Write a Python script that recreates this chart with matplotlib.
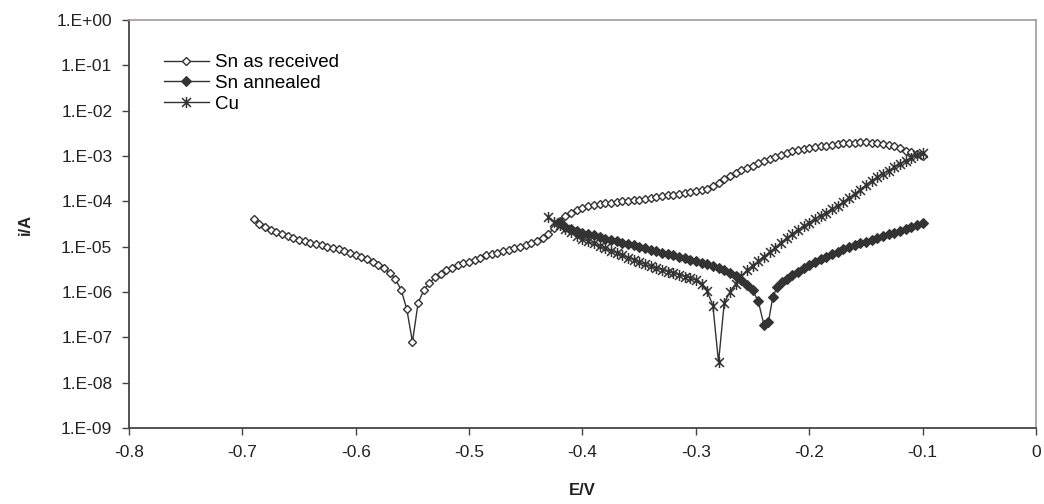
import numpy as np
import matplotlib
matplotlib.use("Agg")
import matplotlib.pyplot as plt
from matplotlib.path import Path
from matplotlib.ticker import FixedLocator, FuncFormatter

plt.rcParams['font.family'] = ['Liberation Sans', 'DejaVu Sans']

# Polarisation curves, E in V, current as log10(i/A)
e_received = [-0.690, -0.685, -0.680, -0.675, -0.670, -0.665, -0.660, -0.655, -0.650, -0.645,
              -0.640, -0.635, -0.630, -0.625, -0.620, -0.615, -0.610, -0.605, -0.600, -0.595,
              -0.590, -0.585, -0.580, -0.575, -0.570, -0.565, -0.560, -0.555, -0.550, -0.545,
              -0.540, -0.535, -0.530, -0.525, -0.520, -0.515, -0.510, -0.505, -0.500, -0.495,
              -0.490, -0.485, -0.480, -0.475, -0.470, -0.465, -0.460, -0.455, -0.450, -0.445,
              -0.440, -0.435, -0.430, -0.425, -0.420, -0.415, -0.410, -0.405, -0.400, -0.395,
              -0.390, -0.385, -0.380, -0.375, -0.370, -0.365, -0.360, -0.355, -0.350, -0.345,
              -0.340, -0.335, -0.330, -0.325, -0.320, -0.315, -0.310, -0.305, -0.300, -0.295,
              -0.290, -0.285, -0.280, -0.275, -0.270, -0.265, -0.260, -0.255, -0.250, -0.245,
              -0.240, -0.235, -0.230, -0.225, -0.220, -0.215, -0.210, -0.205, -0.200, -0.195,
              -0.190, -0.185, -0.180, -0.175, -0.170, -0.165, -0.160, -0.155, -0.150, -0.145,
              -0.140, -0.135, -0.130, -0.125, -0.120, -0.115, -0.110, -0.105, -0.100]
logi_received = [-4.40, -4.49, -4.56, -4.63, -4.68, -4.73, -4.77, -4.81, -4.85, -4.88,
                 -4.91, -4.94, -4.97, -5.00, -5.03, -5.06, -5.10, -5.14, -5.18, -5.22,
                 -5.27, -5.33, -5.40, -5.48, -5.58, -5.72, -5.95, -6.38, -7.10, -6.24,
                 -5.96, -5.80, -5.68, -5.60, -5.52, -5.46, -5.41, -5.37, -5.33, -5.29,
                 -5.24, -5.19, -5.16, -5.13, -5.10, -5.07, -5.04, -5.01, -4.97, -4.93,
                 -4.88, -4.81, -4.72, -4.58, -4.44, -4.33, -4.25, -4.19, -4.14, -4.10,
                 -4.07, -4.05, -4.04, -4.03, -4.02, -4.00, -3.99, -3.97, -3.96, -3.94,
                 -3.93, -3.91, -3.89, -3.87, -3.85, -3.83, -3.81, -3.79, -3.77, -3.75,
                 -3.72, -3.67, -3.59, -3.51, -3.44, -3.37, -3.31, -3.26, -3.21, -3.16,
                 -3.11, -3.06, -3.02, -2.98, -2.94, -2.90, -2.87, -2.85, -2.83, -2.81,
                 -2.79, -2.77, -2.75, -2.73, -2.72, -2.71, -2.71, -2.70, -2.70, -2.71,
                 -2.72, -2.74, -2.76, -2.79, -2.83, -2.88, -2.92, -2.96, -2.99]

e_annealed = [-0.420, -0.415, -0.410, -0.405, -0.400, -0.395, -0.390, -0.385, -0.380, -0.375,
              -0.370, -0.365, -0.360, -0.355, -0.350, -0.345, -0.340, -0.335, -0.330, -0.325,
              -0.320, -0.315, -0.310, -0.305, -0.300, -0.295, -0.290, -0.285, -0.280, -0.275,
              -0.270, -0.265, -0.260, -0.255, -0.250, -0.245, -0.240, -0.236, -0.232, -0.228,
              -0.224, -0.220, -0.215, -0.210, -0.205, -0.200, -0.195, -0.190, -0.185, -0.180,
              -0.175, -0.170, -0.165, -0.160, -0.155, -0.150, -0.145, -0.140, -0.135, -0.130,
              -0.125, -0.120, -0.115, -0.110, -0.105, -0.100]
logi_annealed = [-4.48, -4.56, -4.62, -4.66, -4.69, -4.72, -4.75, -4.79, -4.82, -4.85,
                 -4.88, -4.91, -4.94, -4.97, -5.00, -5.04, -5.07, -5.10, -5.13, -5.16,
                 -5.19, -5.22, -5.25, -5.29, -5.32, -5.35, -5.39, -5.43, -5.47, -5.52,
                 -5.58, -5.65, -5.74, -5.84, -5.96, -6.20, -6.72, -6.66, -6.10, -5.88,
                 -5.78, -5.72, -5.63, -5.55, -5.47, -5.40, -5.34, -5.28, -5.22, -5.16,
                 -5.11, -5.06, -5.01, -4.97, -4.93, -4.89, -4.85, -4.81, -4.77, -4.73,
                 -4.70, -4.66, -4.62, -4.57, -4.52, -4.47]

e_cu = [-0.430, -0.425, -0.420, -0.415, -0.410, -0.405, -0.400, -0.395, -0.390, -0.385,
        -0.380, -0.375, -0.370, -0.365, -0.360, -0.355, -0.350, -0.345, -0.340, -0.335,
        -0.330, -0.325, -0.320, -0.315, -0.310, -0.305, -0.300, -0.295, -0.290, -0.285,
        -0.280, -0.275, -0.270, -0.265, -0.260, -0.255, -0.250, -0.245, -0.240, -0.235,
        -0.230, -0.225, -0.220, -0.215, -0.210, -0.205, -0.200, -0.195, -0.190, -0.185,
        -0.180, -0.175, -0.170, -0.165, -0.160, -0.155, -0.150, -0.145, -0.140, -0.135,
        -0.130, -0.125, -0.120, -0.115, -0.110, -0.105, -0.100]
logi_cu = [-4.35, -4.45, -4.53, -4.61, -4.68, -4.76, -4.83, -4.88, -4.93, -4.99,
           -5.04, -5.09, -5.14, -5.19, -5.24, -5.29, -5.34, -5.39, -5.43, -5.47,
           -5.51, -5.55, -5.58, -5.62, -5.66, -5.69, -5.74, -5.82, -5.98, -6.30,
           -7.55, -6.25, -6.00, -5.82, -5.65, -5.52, -5.42, -5.32, -5.22, -5.12,
           -5.02, -4.91, -4.81, -4.72, -4.64, -4.55, -4.47, -4.39, -4.32, -4.25,
           -4.18, -4.10, -4.02, -3.93, -3.84, -3.74, -3.64, -3.55, -3.47, -3.39,
           -3.32, -3.25, -3.18, -3.10, -3.04, -2.98, -2.94]

labels = ['Sn as received', 'Sn annealed', 'Cu']
x_ticks = [-0.8, -0.7, -0.6, -0.5, -0.4, -0.3, -0.2, -0.1, 0.0]
y_decades = [0, -1, -2, -3, -4, -5, -6, -7, -8, -9]

INK = '#333333'

# excel style star: an x with a vertical bar through it
star = Path([(-1, -1), (1, 1), (-1, 1), (1, -1), (0, -1.25), (0, 1.25)],
            [Path.MOVETO, Path.LINETO, Path.MOVETO, Path.LINETO, Path.MOVETO, Path.LINETO])

fig = plt.figure(figsize=(10.44, 5.04), dpi=100)
ax = fig.add_axes([0.1236, 0.1508, 0.8687, 0.8095])

ax.plot(e_received, 10 ** np.array(logi_received), color=INK, lw=1.0, marker='D',
        ms=4.0, mfc='white', mec=INK, mew=1.0, label=labels[0])
ax.plot(e_annealed, 10 ** np.array(logi_annealed), color=INK, lw=1.0, marker='D',
        ms=4.6, mfc=INK, mec=INK, mew=0.8, label=labels[1])
ax.plot(e_cu, 10 ** np.array(logi_cu), color=INK, lw=1.0, marker=star,
        ms=8, mfc=INK, mec=INK, mew=1.1, label=labels[2])

ax.set_yscale('log')
ax.set_xlim(-0.8, 0)
ax.set_ylim(1e-9, 1)
ax.yaxis.set_major_locator(FixedLocator([10.0 ** d for d in y_decades]))
ax.yaxis.set_minor_locator(FixedLocator([]))
ax.yaxis.set_major_formatter(FuncFormatter(lambda v, p: "1.E%+03d" % int(round(np.log10(v)))))
ax.xaxis.set_major_locator(FixedLocator(x_ticks))
ax.xaxis.set_major_formatter(FuncFormatter(lambda v, p: "0" if abs(v) < 1e-9 else "%.1f" % v))

for s in ['left', 'bottom']:
    ax.spines[s].set_color('#444444')
    ax.spines[s].set_linewidth(1.3)
for s in ['top', 'right']:
    ax.spines[s].set_color('#a39a9a')
    ax.spines[s].set_linewidth(1.2)

ax.tick_params(axis='both', direction='out', length=5, width=1.0, color='#444444',
               labelsize=12.5, labelcolor='#222222', pad=7)

ax.set_xlabel('E/V', fontsize=12, fontweight='bold', labelpad=17, color='#222222')
ax.set_ylabel('i/A', fontsize=12, fontweight='bold', labelpad=17, color='#222222')

ax.legend(loc='upper left', bbox_to_anchor=(0.03, 0.935), frameon=False, fontsize=13.5,
          handlelength=2.4, handletextpad=0.35, labelspacing=0.2, borderaxespad=0)

fig.savefig('out.png', dpi=100)
